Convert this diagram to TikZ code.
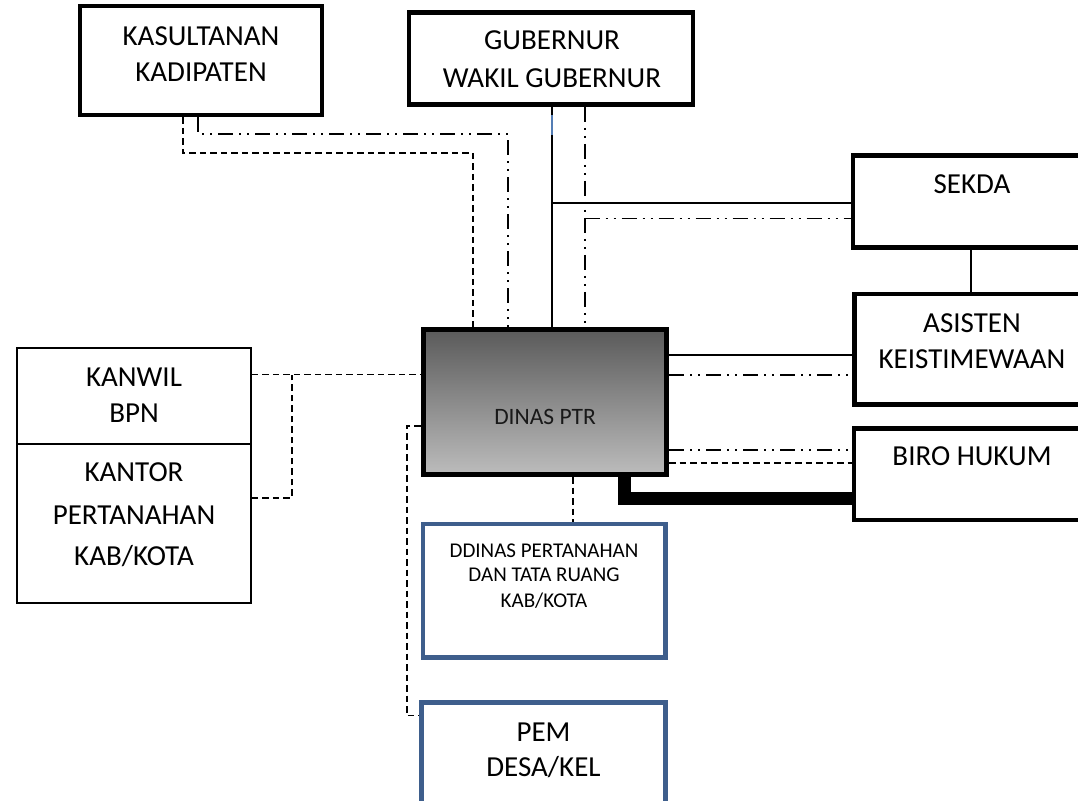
\documentclass[tikz,border=0pt]{standalone}
\usepackage{fontspec}
\setmainfont{Carlito}
\definecolor{boxblue}{RGB}{62,94,140}
\definecolor{segblue}{RGB}{84,125,180}
\definecolor{dtop}{RGB}{90,90,90}
\definecolor{dbot}{RGB}{188,188,188}
\tikzset{
  thickbox/.style={draw, line width=4.5pt, fill=white, inner sep=0pt, outer sep=2.25pt, rectangle},
  thinbox/.style={draw, line width=1.8pt, fill=white, inner sep=0pt, outer sep=0.9pt, rectangle},
  bluebox/.style={draw=boxblue, line width=4.8pt, fill=white, inner sep=0pt, outer sep=2.4pt, rectangle},
  ptrbox/.style={draw, line width=5pt, top color=dtop, bottom color=dbot, inner sep=0pt, outer sep=2.5pt, rectangle},
  bigtxt/.style={anchor=base, inner sep=0pt, font=\fontsize{29}{34}\selectfont},
  midtxt/.style={anchor=base, inner sep=0pt, font=\fontsize{23.5}{28}\selectfont, text=black!90},
  smalltxt/.style={anchor=base, inner sep=0pt, font=\fontsize{21}{25}\selectfont},
  conn/.style={line width=1.8pt},
  dsh/.style={conn, dash pattern=on 6.5pt off 4pt},
  ddot/.style={conn, dash pattern=on 15pt off 6pt on 2pt off 6pt on 2pt off 6pt},
  heavy/.style={line width=13pt},
}
\begin{document}
\begin{tikzpicture}[x=1pt, y=-1pt]
\useasboundingbox (0,0) rectangle (1078,800);
\clip (0,0) rectangle (1078,800);

% boxes
\node[thickbox, minimum width=242pt, minimum height=109pt] (kas) at (201,60.5) {};
\node[thickbox, minimum width=284pt, minimum height=92pt] (gub) at (551,58.5) {};
\node[thickbox, minimum width=247pt, minimum height=92pt] (sek) at (976.5,201.5) {};
\node[thickbox, minimum width=245.5pt, minimum height=110.5pt] (asi) at (977.25,349.25) {};
\node[thickbox, minimum width=246pt, minimum height=91.5pt] (biro) at (977,474.25) {};
\node[thinbox, minimum width=234pt, minimum height=96pt] (kanwil) at (134,396) {};
\node[thinbox, minimum width=234pt, minimum height=159pt] (kantor) at (134,523.5) {};
\node[ptrbox, minimum width=243.5pt, minimum height=145pt] (dinas) at (544.75,402) {};
\node[bluebox, minimum width=242.5pt, minimum height=133.5pt] (ddinas) at (544.25,590.75) {};
\node[bluebox, minimum width=243.7pt, minimum height=127pt] (pem) at (543.6,766) {};

% texts
\node[bigtxt] (kas1) at (201,45.7) {KASULTANAN};
\node[bigtxt] (kas2) at (201,81.7) {KADIPATEN};
\node[bigtxt] (gub1) at (552,50) {GUBERNUR};
\node[bigtxt] (gub2) at (552,87.7) {WAKIL GUBERNUR};
\node[bigtxt] (sek1) at (972,193.3) {SEKDA};
\node[bigtxt] (asi1) at (972,332.7) {ASISTEN};
\node[bigtxt] (asi2) at (972,368.3) {KEISTIMEWAAN};
\node[bigtxt] (biro1) at (972,465) {BIRO HUKUM};
\node[bigtxt] (kw1) at (134,386) {KANWIL};
\node[bigtxt] (kw2) at (134,422.7) {BPN};
\node[bigtxt] (kt1) at (134,481.7) {KANTOR};
\node[bigtxt] (kt2) at (134,524) {PERTANAHAN};
\node[bigtxt] (kt3) at (134,565) {KAB/KOTA};
\node[midtxt] (din1) at (545,424) {DINAS PTR};
\node[smalltxt] (dd1) at (544,557) {DDINAS PERTANAHAN};
\node[smalltxt] (dd2) at (544,581.7) {DAN TATA RUANG};
\node[smalltxt] (dd3) at (544,607.7) {KAB/KOTA};
\node[bigtxt] (pem1) at (543.5,741.7) {PEM};
\node[bigtxt] (pem2) at (543.5,776.7) {DESA/KEL};

% helper coordinates
\coordinate (xg) at (551.7,0);
\coordinate (xd) at (584.6,0);
\coordinate (xk0) at (182.7,0);
\coordinate (xk1) at (198.3,0);
\coordinate (xk2) at (508.3,0);
\coordinate (xk3) at (472.7,0);
\coordinate (xs) at (970.7,0);
\coordinate (xb) at (291.7,0);
\coordinate (xv) at (406.7,0);
\coordinate (xdd) at (573,0);
\coordinate (xh) at (624.8,0);
\coordinate (ys1) at (0,203.3);
\coordinate (ys2) at (0,218.5);
\coordinate (yk1) at (0,134.3);
\coordinate (yk2) at (0,152.7);
\coordinate (ya1) at (0,355);
\coordinate (ya2) at (0,375);
\coordinate (yb1) at (0,450);
\coordinate (yb2) at (0,463.3);
\coordinate (yh) at (0,498);
\coordinate (yw1) at (0,374.5);
\coordinate (yw2) at (0,498);
\coordinate (yv1) at (0,426);
\coordinate (yv2) at (0,715.5);
\coordinate (yblue1) at (0,115);
\coordinate (yblue2) at (0,135);

% connectors
\draw[conn] (gub.south -| xg) -- (dinas.north -| xg);
\draw[conn, segblue] (xg |- yblue1) -- (xg |- yblue2);
\draw[conn] (xg |- ys1) -- (sek.west |- ys1);
\draw[ddot] (gub.south -| xd) -- (dinas.north -| xd);
\draw[ddot] (xd |- ys2) -- (sek.west |- ys2);
\draw[ddot] (kas.south -| xk1) -- (xk1 |- yk1) -- (xk2 |- yk1) -- (dinas.north -| xk2);
\draw[dsh] (kas.south -| xk0) -- (xk0 |- yk2) -- (xk3 |- yk2) -- (dinas.north -| xk3);
\draw[conn] (dinas.east |- ya1) -- (asi.west |- ya1);
\draw[ddot] (dinas.east |- ya2) -- (asi.west |- ya2);
\draw[ddot] (dinas.east |- yb1) -- (biro.west |- yb1);
\draw[dsh] (dinas.east |- yb2) -- (biro.west |- yb2);
\draw[heavy] (dinas.south -| xh) -- (xh |- yh) -- (biro.west |- yh);
\draw[conn] (sek.south -| xs) -- (asi.north -| xs);
\draw[dsh] (kanwil.east |- yw1) -- (dinas.west |- yw1);
\draw[dsh] (kantor.east |- yw2) -- (xb |- yw2) -- (xb |- yw1);
\draw[dsh] (dinas.west |- yv1) -- (xv |- yv1) -- (xv |- yv2) -- (pem.west |- yv2);
\draw[dsh] (dinas.south -| xdd) -- (ddinas.north -| xdd);
\end{tikzpicture}
\end{document}
